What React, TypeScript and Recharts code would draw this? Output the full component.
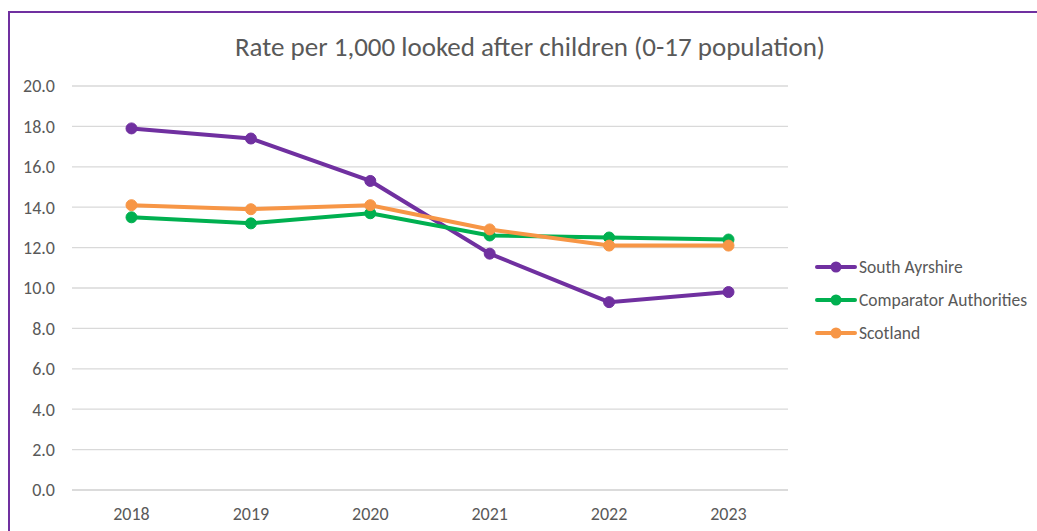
import { LineChart, Line, XAxis, YAxis, CartesianGrid } from "recharts";

const years = ["2018", "2019", "2020", "2021", "2022", "2023"];
const southAyrshire = [17.9, 17.4, 15.3, 11.7, 9.3, 9.8];
const comparator = [13.5, 13.2, 13.7, 12.6, 12.5, 12.4];
const scotland = [14.1, 13.9, 14.1, 12.9, 12.1, 12.1];
const yTicks = [0, 2, 4, 6, 8, 10, 12, 14, 16, 18, 20];

const series = [
  { key: "southAyrshire", name: "South Ayrshire", color: "#7030A0" },
  { key: "comparator", name: "Comparator Authorities", color: "#00B050" },
  { key: "scotland", name: "Scotland", color: "#F79646" },
];

const data = years.map((year, i) => ({
  year,
  southAyrshire: southAyrshire[i],
  comparator: comparator[i],
  scotland: scotland[i],
}));

const font = "Carlito, Lato, 'Open Sans', sans-serif";
const textColor = "#595959";
const gridColor = "#d9d9d9";

// legend drawn by hand, outside the chart, so it takes no room from the plot
const LegendBox = () => (
  <div style={{ position: "absolute", left: 815, top: 250, fontFamily: font, fontSize: 17.5, color: textColor }}>
    {series.map((s) => (
      <div key={s.key} style={{ display: "flex", alignItems: "center", height: 33 }}>
        <svg width={42} height={14}>
          <line x1={2} y1={7} x2={40} y2={7} stroke={s.color} strokeWidth={4} strokeLinecap="round" />
          <circle cx={21} cy={7} r={5.5} fill={s.color} />
        </svg>
        <span style={{ marginLeft: 2 }}>{s.name}</span>
      </div>
    ))}
  </div>
);

export default function App() {
  return (
    <div style={{ position: "absolute", left: 0, top: 0, width: 1037, height: 531, overflow: "hidden", background: "#fff" }}>
      <div
        style={{
          position: "absolute",
          left: 8,
          top: 11,
          width: 1100,
          height: 600,
          border: "2px solid #7030A0",
          boxSizing: "border-box",
        }}
      />
      <div
        style={{
          position: "absolute",
          left: 0,
          width: 1060,
          top: 30,
          textAlign: "center",
          fontFamily: font,
          fontSize: 27,
          color: textColor,
        }}
      >
        Rate per 1,000 looked after children (0-17 population)
      </div>
      <div style={{ position: "absolute", left: 0, top: 0 }}>
        <LineChart width={1037} height={531} data={data} margin={{ top: 86, right: 249, bottom: 11, left: 12 }}>
          <CartesianGrid vertical={false} stroke={gridColor} strokeWidth={1.3} />
          <XAxis
            dataKey="year"
            padding={{ left: 59.5, right: 59.5 }}
            axisLine={{ stroke: gridColor, strokeWidth: 1.3 }}
            tickLine={false}
            height={30}
            tickSize={0}
            tickMargin={17}
            tick={{ fontFamily: font, fontSize: 18, fill: textColor }}
          />
          <YAxis
            domain={[0, 20]}
            ticks={yTicks}
            width={60}
            axisLine={false}
            tickLine={false}
            tickSize={0}
            tickMargin={17}
            tickFormatter={(v: number) => v.toFixed(1)}
            tick={{ fontFamily: font, fontSize: 18, fill: textColor }}
          />
          {series.map((s) => (
            <Line
              key={s.key}
              dataKey={s.key}
              name={s.name}
              stroke={s.color}
              strokeWidth={4}
              dot={{ r: 5.5, fill: s.color, stroke: s.color, strokeWidth: 1 }}
              activeDot={false}
              isAnimationActive={false}
            />
          ))}
        </LineChart>
      </div>
      <LegendBox />
    </div>
  );
}
